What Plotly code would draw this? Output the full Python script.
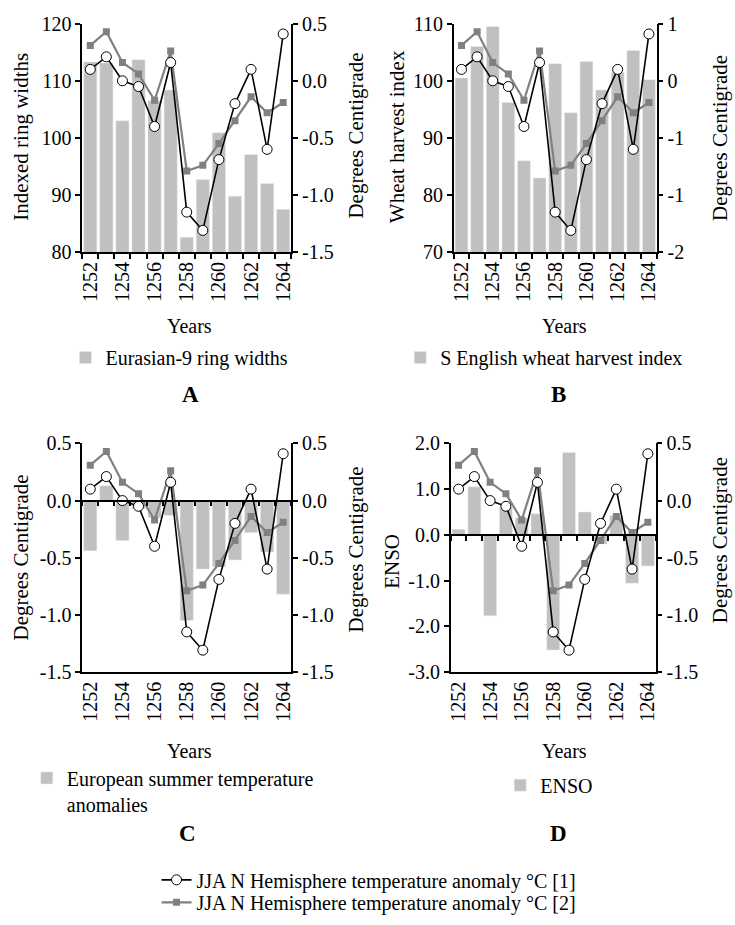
import plotly.graph_objects as go

# ---------------- data ----------------
years = [1252, 1253, 1254, 1255, 1256, 1257, 1258, 1259, 1260, 1261, 1262, 1263, 1264]
year_tick_vals = [1252, 1254, 1256, 1258, 1260, 1262, 1264]
year_tick_text = ["1252", "1254", "1256", "1258", "1260", "1262", "1264"]

jja_1 = [0.10, 0.21, 0.00, -0.05, -0.40, 0.16, -1.15, -1.31, -0.69, -0.20, 0.10, -0.60, 0.41]
jja_2 = [0.31, 0.43, 0.16, 0.06, -0.17, 0.26, -0.79, -0.74, -0.55, -0.35, -0.14, -0.28, -0.19]

ring_widths = [113.3, 113.1, 103.0, 113.7, 106.5, 108.4, 82.6, 92.7, 100.9, 89.8, 97.1, 92.0, 87.5]
wheat_index = [100.5, 106.0, 109.5, 96.2, 86.0, 83.0, 103.0, 94.4, 103.4, 98.4, 101.5, 105.3, 100.2]
euro_temp = [-0.44, 0.13, -0.35, -0.07, -0.15, -0.13, -1.05, -0.60, -0.58, -0.52, -0.28, -0.45, -0.82]
enso = [0.12, 1.05, -1.77, 0.60, 0.37, 0.46, -2.52, 1.80, 0.50, -0.20, 0.42, -1.06, -0.68]

ticks_ring = [80, 90, 100, 110, 120]
ticks_ring_text = ["80", "90", "100", "110", "120"]
ticks_wheat = [70, 80, 90, 100, 110]
ticks_wheat_text = ["70", "80", "90", "100", "110"]
ticks_deg = [-1.5, -1.0, -0.5, 0.0, 0.5]
ticks_deg_text = ["-1.5", "-1.0", "-0.5", "0.0", "0.5"]
ticks_deg_int_text = ["-2", "-1", "-1", "0", "1"]
ticks_enso = [-3, -2, -1, 0, 1, 2]
ticks_enso_text = ["-3.0", "-2.0", "-1.0", "0.0", "1.0", "2.0"]

name_jja1 = "JJA N Hemisphere temperature anomaly °C [1]"
name_jja2 = "JJA N Hemisphere temperature anomaly °C [2]"

# ---------------- style ----------------
W, H = 735, 925
FONT = "Liberation Serif"
BAR_COLOR = "#c0c0c0"
GRAY = "#808080"
FS = 20


def px_x(v):
    return v / W


def px_y(v):
    return 1 - v / H


dom_x_left = [px_x(79), px_x(290)]
dom_x_B = [px_x(454), px_x(659)]
dom_x_D = [px_x(451), px_x(658)]
dom_y_top = [px_y(247), px_y(13)]
dom_y_bot = [px_y(677), px_y(443)]

fig = go.Figure()


def add_lines(xa, ya, show):
    fig.add_trace(go.Scatter(
        x=years, y=jja_2, xaxis=xa, yaxis=ya, mode="lines+markers", name=name_jja2,
        line=dict(color=GRAY, width=2.2),
        marker=dict(symbol="square", size=7, color=GRAY),
        showlegend=show, legend="legend6"))
    fig.add_trace(go.Scatter(
        x=years, y=jja_1, xaxis=xa, yaxis=ya, mode="lines+markers", name=name_jja1,
        line=dict(color="black", width=1.6),
        marker=dict(symbol="circle", size=10, color="white", line=dict(color="black", width=1)),
        showlegend=show, legend="legend5"))


# Panel A
fig.add_trace(go.Bar(x=years, y=ring_widths, xaxis="x", yaxis="y", marker_color=BAR_COLOR,
                     name="Eurasian-9 ring widths", legend="legend"))
add_lines("x", "y2", True)
# Panel B
fig.add_trace(go.Bar(x=years, y=wheat_index, xaxis="x2", yaxis="y3", marker_color=BAR_COLOR,
                     name="S English wheat harvest index", legend="legend2"))
add_lines("x2", "y4", False)
# Panel C
fig.add_trace(go.Bar(x=years, y=euro_temp, xaxis="x3", yaxis="y5", marker_color=BAR_COLOR,
                     name="European summer temperature<br>anomalies", legend="legend3"))
add_lines("x5", "y6", False)
# Panel D
fig.add_trace(go.Bar(x=years, y=enso, xaxis="x4", yaxis="y7", marker_color=BAR_COLOR,
                     name="ENSO", legend="legend4"))
add_lines("x6", "y8", False)

tickfont = dict(family=FONT, size=FS, color="black")
xr = [1251.5, 1264.5]


def xaxis_main(domain, anchor, with_ticks):
    d = dict(domain=domain, anchor=anchor, range=xr, tickmode="array",
             tickvals=year_tick_vals, ticktext=year_tick_text, tickangle=-90,
             tickfont=tickfont, showline=True, linecolor="black", linewidth=1.5,
             ticks="", showgrid=False, zeroline=False, fixedrange=True)
    if with_ticks:
        d["minor"] = dict(tick0=1251.5, dtick=1, ticks="outside", ticklen=5,
                          tickwidth=1.5, tickcolor="black", showgrid=False)
    return d


def xaxis_zero(overlay, pos):
    return dict(overlaying=overlay, anchor="free", position=pos, range=xr,
                showticklabels=False, showline=True, linecolor="black", linewidth=1.5,
                ticks="", showgrid=False, zeroline=False, tickmode="array", tickvals=[],
                minor=dict(tick0=1251.5, dtick=1, ticks="outside", ticklen=5,
                           tickwidth=1.5, tickcolor="black", showgrid=False))


def yaxis_left(domain, anchor, rng, vals, text):
    return dict(domain=domain, anchor=anchor, range=rng, tickmode="array", tickvals=vals,
                ticktext=text, tickfont=tickfont, showline=True, linecolor="black",
                linewidth=1.5, ticks="outside", ticklen=5, tickwidth=1.5, tickcolor="black",
                showgrid=False, zeroline=False)


def yaxis_right(overlay, anchor, vals, text):
    return dict(overlaying=overlay, anchor=anchor, side="right", range=[-1.5, 0.5],
                tickmode="array", tickvals=vals, ticktext=text, tickfont=tickfont,
                showline=True, linecolor="black", linewidth=1.5, ticks="outside", ticklen=5,
                tickwidth=1.5, tickcolor="black", showgrid=False, zeroline=False)


zero_C = dom_y_bot[0] + 0.75 * (dom_y_bot[1] - dom_y_bot[0])
zero_D = dom_y_bot[0] + 0.6 * (dom_y_bot[1] - dom_y_bot[0])

layout = dict(
    width=W, height=H, margin=dict(l=0, r=0, t=0, b=0),
    paper_bgcolor="white", plot_bgcolor="rgba(0,0,0,0)",
    bargap=0.18, font=dict(family=FONT, size=FS, color="black"),
    xaxis=xaxis_main(dom_x_left, "y", True),
    yaxis=yaxis_left(dom_y_top, "x", [80, 120], ticks_ring, ticks_ring_text),
    yaxis2=yaxis_right("y", "x", ticks_deg, ticks_deg_text),
    xaxis2=xaxis_main(dom_x_B, "y3", True),
    yaxis3=yaxis_left(dom_y_top, "x2", [70, 110], ticks_wheat, ticks_wheat_text),
    yaxis4=yaxis_right("y3", "x2", ticks_deg, ticks_deg_int_text),
    xaxis3=xaxis_main(dom_x_left, "y5", False),
    yaxis5=yaxis_left(dom_y_bot, "x3", [-1.5, 0.5], ticks_deg, ticks_deg_text),
    yaxis6=yaxis_right("y5", "x3", ticks_deg, ticks_deg_text),
    xaxis5=xaxis_zero("x3", zero_C),
    xaxis4=xaxis_main(dom_x_D, "y7", False),
    yaxis7=yaxis_left(dom_y_bot, "x4", [-3, 2], ticks_enso, ticks_enso_text),
    yaxis8=yaxis_right("y7", "x4", ticks_deg, ticks_deg_text),
    xaxis6=xaxis_zero("x4", zero_D),
    showlegend=True,
)


def leg(x_text, y_center, valign="middle"):
    return dict(x=px_x(x_text - 42), y=px_y(y_center), xanchor="left", yanchor="middle",
                bgcolor="rgba(0,0,0,0)", borderwidth=0, valign=valign,
                font=dict(family=FONT, size=FS, color="black"))


layout["legend"] = leg(104, 355)
layout["legend2"] = leg(442, 355)
layout["legend3"] = leg(65, 799, "top")
layout["legend4"] = leg(543, 793)
layout["legend5"] = leg(196, 890)
layout["legend6"] = leg(196, 913)

fig.update_layout(**layout)

annots = []


def txt(text, x, y, size=FS, angle=0, bold=False):
    annots.append(dict(text=("<b>%s</b>" % text) if bold else text, x=px_x(x), y=px_y(y),
                       xref="paper", yref="paper", showarrow=False, textangle=angle,
                       xanchor="center", yanchor="middle",
                       font=dict(family=FONT, size=size, color="black")))


# axis titles
txt("Indexed ring widths", 17, 129, 21, -90)
txt("Degrees Centigrade", 355, 128, 21, -90)
txt("Wheat harvest index", 397, 129, 21, -90)
txt("Degrees Centigrade", 723, 130, 21, -90)
txt("Degrees Centigrade", 17, 560, 21, -90)
txt("Degrees Centigrade", 355, 552, 21, -90)
txt("ENSO", 391, 564, 21, -90)
txt("Degrees Centigrade", 723, 542, 21, -90)
txt("Years", 187, 323)
txt("Years", 566, 323)
txt("Years", 187, 758)
txt("Years", 566, 758)
# panel letters
txt("A", 188, 393, 23, bold=True)
txt("B", 560, 393, 23, bold=True)
txt("C", 185, 843, 23, bold=True)
txt("D", 560, 843, 23, bold=True)

fig.update_layout(annotations=annots)
fig.write_html("out.html", config={"displayModeBar": False},
               post_script="document.body.style.margin='0px';")
